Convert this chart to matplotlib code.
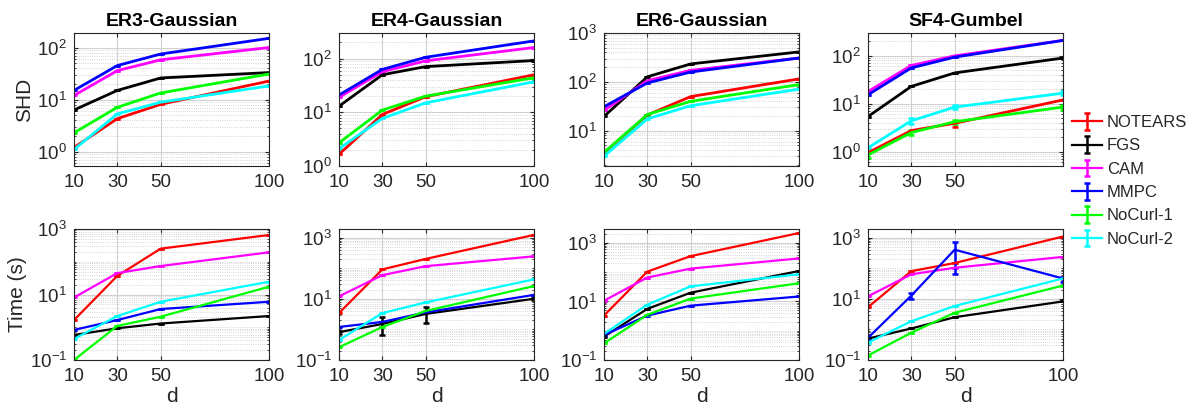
import numpy as np
import matplotlib
matplotlib.use('Agg')
import matplotlib.pyplot as plt
from matplotlib.ticker import FixedLocator, LogFormatterSciNotation, NullFormatter

# フォント設定 (MATLAB風)
plt.rcParams['font.family'] = ['Liberation Sans', 'DejaVu Sans']
plt.rcParams['mathtext.fontset'] = 'custom'
plt.rcParams['mathtext.rm'] = 'Liberation Sans'
plt.rcParams['mathtext.it'] = 'Liberation Sans:italic'
plt.rcParams['axes.unicode_minus'] = False

# データ
d = [10, 30, 50, 100]
methods = ['NOTEARS', 'FGS', 'CAM', 'MMPC', 'NoCurl-1', 'NoCurl-2']
colors = ['#ff0000', '#000000', '#ff00ff', '#0000ff', '#00ff00', '#00ffff']

titles = ['ER3-Gaussian', 'ER4-Gaussian', 'ER6-Gaussian', 'SF4-Gumbel']

# SHD (上段)
shd_er3 = {
    'NOTEARS': [1.2, 4.3, 8.1, 22.7],
    'FGS': [6.3, 15, 26, 33],
    'CAM': [12, 36, 58, 100],
    'MMPC': [15, 45, 75, 150],
    'NoCurl-1': [2.3, 7.1, 13.4, 31],
    'NoCurl-2': [1.1, 5.3, 8.9, 18.3],
}
shd_er4 = {
    'NOTEARS': [1.65, 9.1, 19.5, 50],
    'FGS': [13, 50, 71, 92],
    'CAM': [19, 57, 91, 161],
    'MMPC': [21, 63, 106, 214],
    'NoCurl-1': [2.7, 11, 20, 44],
    'NoCurl-2': [2.1, 7.7, 15, 37],
}
shd_er6 = {
    'NOTEARS': [3.5, 21, 50, 115],
    'FGS': [19.6, 127, 233, 410],
    'CAM': [26, 106, 172, 308],
    'MMPC': [31, 95, 159, 308],
    'NoCurl-1': [3.6, 21.5, 40, 88],
    'NoCurl-2': [3.0, 17.5, 32.5, 71],
}
shd_sf4 = {
    'NOTEARS': [0.95, 2.75, 3.9, 12],
    'FGS': [5.4, 23, 44, 90],
    'CAM': [18, 63, 100, 210],
    'MMPC': [15.4, 56, 94, 210],
    'NoCurl-1': [0.85, 2.5, 4.2, 8.5],
    'NoCurl-2': [1.2, 4.4, 8.5, 16.6],
}

# Time (下段)
time_er3 = {
    'NOTEARS': [1.66, 37, 251, 656],
    'FGS': [0.58, 0.93, 1.3, 2.2],
    'CAM': [8.1, 45, 74, 194],
    'MMPC': [0.83, 1.66, 3.6, 6.0],
    'NoCurl-1': [0.1, 1.1, 2.1, 17.3],
    'NoCurl-2': [0.44, 2.2, 6.0, 24.6],
}
time_er4 = {
    'NOTEARS': [3.4, 91, 200, 1220],
    'FGS': [0.81, 1.5, 3.2, 10],
    'CAM': [12, 59, 116, 243],
    'MMPC': [1.2, 1.75, 3.6, 13.4],
    'NoCurl-1': [0.26, 1.2, 4.0, 26],
    'NoCurl-2': [0.45, 3.4, 7.6, 43],
}
time_er6 = {
    'NOTEARS': [3.3, 105, 355, 2180],
    'FGS': [0.63, 5.6, 20, 110],
    'CAM': [10.6, 66, 133, 296],
    'MMPC': [0.71, 3.3, 7.2, 14.8],
    'NoCurl-1': [0.37, 3.5, 12.6, 42],
    'NoCurl-2': [0.78, 7.8, 33, 85],
}
time_sf4 = {
    'NOTEARS': [5.3, 80, 147, 1080],
    'FGS': [0.50, 1.07, 2.5, 8.2],
    'CAM': [12, 63, 103, 233],
    'MMPC': [0.53, 12.7, 400, 46],
    'NoCurl-1': [0.14, 0.78, 3.5, 27],
    'NoCurl-2': [0.37, 1.85, 5.8, 46],
}

# 目に見える誤差棒 (下側, 上側)
err_bars = {
    (0, 3, 'NOTEARS'): ([0, 0, 0.7, 0], [0, 0, 0.3, 0]),
    (0, 3, 'NoCurl-2'): ([0, 0.6, 0.8, 1.5], [0, 0.7, 1.0, 1.8]),
    (0, 3, 'NoCurl-1'): ([0.1, 0.3, 0.4, 1.0], [0.1, 0.3, 0.4, 1.0]),
    (1, 1, 'FGS'): ([0.1, 0.83, 1.6, 1.2], [0.1, 1.1, 2.2, 1.2]),
    (1, 3, 'MMPC'): ([0.05, 2.7, 334, 10], [0.05, 3.3, 340, 7]),
}

shd_data = [shd_er3, shd_er4, shd_er6, shd_sf4]
time_data = [time_er3, time_er4, time_er6, time_sf4]

shd_ylims = [(0.53, 190), (1, 300), (1.9, 1000), (0.5, 300)]
time_ylims = [(0.1, 1000), (0.1, 1900), (0.1, 3000), (0.1, 1900)]

fig = plt.figure(figsize=(11.87, 4.08), dpi=100)

lefts = [74, 339, 604, 868]
W = 1187.0
H = 408.0
axcol = '#262626'


def style_axis(ax, ylim, major):
    ax.set_yscale('log')
    ax.set_xlim(10, 100)
    ax.set_ylim(*ylim)
    ax.set_xticks(d)
    ax.set_xticklabels([str(v) for v in d])
    ax.yaxis.set_major_locator(FixedLocator(major))
    ax.yaxis.set_major_formatter(LogFormatterSciNotation())
    minors = [m * 10.0 ** e for e in range(-2, 4) for m in range(1, 10)]
    minors = [v for v in minors if v not in major]
    ax.yaxis.set_minor_locator(FixedLocator(minors))
    ax.yaxis.set_minor_formatter(NullFormatter())
    ax.grid(True, which='major', color='#d0d0d0', linewidth=0.8)
    ax.grid(True, which='minor', axis='y', color='#c8c8c8', linestyle=':', linewidth=0.6)
    ax.tick_params(which='both', direction='in', top=True, right=True,
                   colors=axcol, labelsize=13.5, length=3)
    ax.tick_params(axis='x', pad=6)
    ax.tick_params(axis='y', pad=5)
    ax.tick_params(which='minor', length=1.5)
    for s in ax.spines.values():
        s.set_color(axcol)
        s.set_linewidth(0.8)
    ax.set_axisbelow(True)


handles = []
for row in range(2):
    data_list = shd_data if row == 0 else time_data
    for col in range(4):
        if row == 0:
            ax = fig.add_axes([lefts[col] / W, 1 - 166 / H, 195 / W, 133 / H])
        else:
            ax = fig.add_axes([lefts[col] / W, 1 - 360 / H, 195 / W, 131 / H])
        data = data_list[col]
        lw = 2.0 if row == 0 else 1.6
        for m, c in zip(methods, colors):
            vals = np.array(data[m])
            lo, hi = err_bars.get((row, col, m), ([0] * 4, [0] * 4))
            h = ax.errorbar(d, vals, yerr=[lo, hi], color=c, linewidth=lw,
                            elinewidth=1.8, capsize=2.5, capthick=1.8, label=m)
            if row == 1 and col == 3:
                handles.append(h)
        if row == 0:
            ax.set_title(titles[col], fontsize=14, fontweight='bold', pad=5)
            style_axis(ax, shd_ylims[col], [1, 10, 100, 1000])
            if col == 3:
                ax.set_xticklabels(['10', '30', '50', ''])
        else:
            style_axis(ax, time_ylims[col], [0.1, 10, 1000])
            ax.set_xlabel('d', fontsize=15, color=axcol, labelpad=1)
        if col == 0:
            ax.set_ylabel('SHD' if row == 0 else 'Time (s)', fontsize=15, color=axcol, labelpad=2)

leg = fig.legend(handles, methods, loc='center left', bbox_to_anchor=(1072 / W, 1 - 181 / H),
                 frameon=False, fontsize=12, handlelength=1.8, handletextpad=0.3,
                 labelspacing=0.5, borderpad=0, borderaxespad=0)
for t in leg.get_texts():
    t.set_color(axcol)

plt.savefig('out.png', dpi=100)
